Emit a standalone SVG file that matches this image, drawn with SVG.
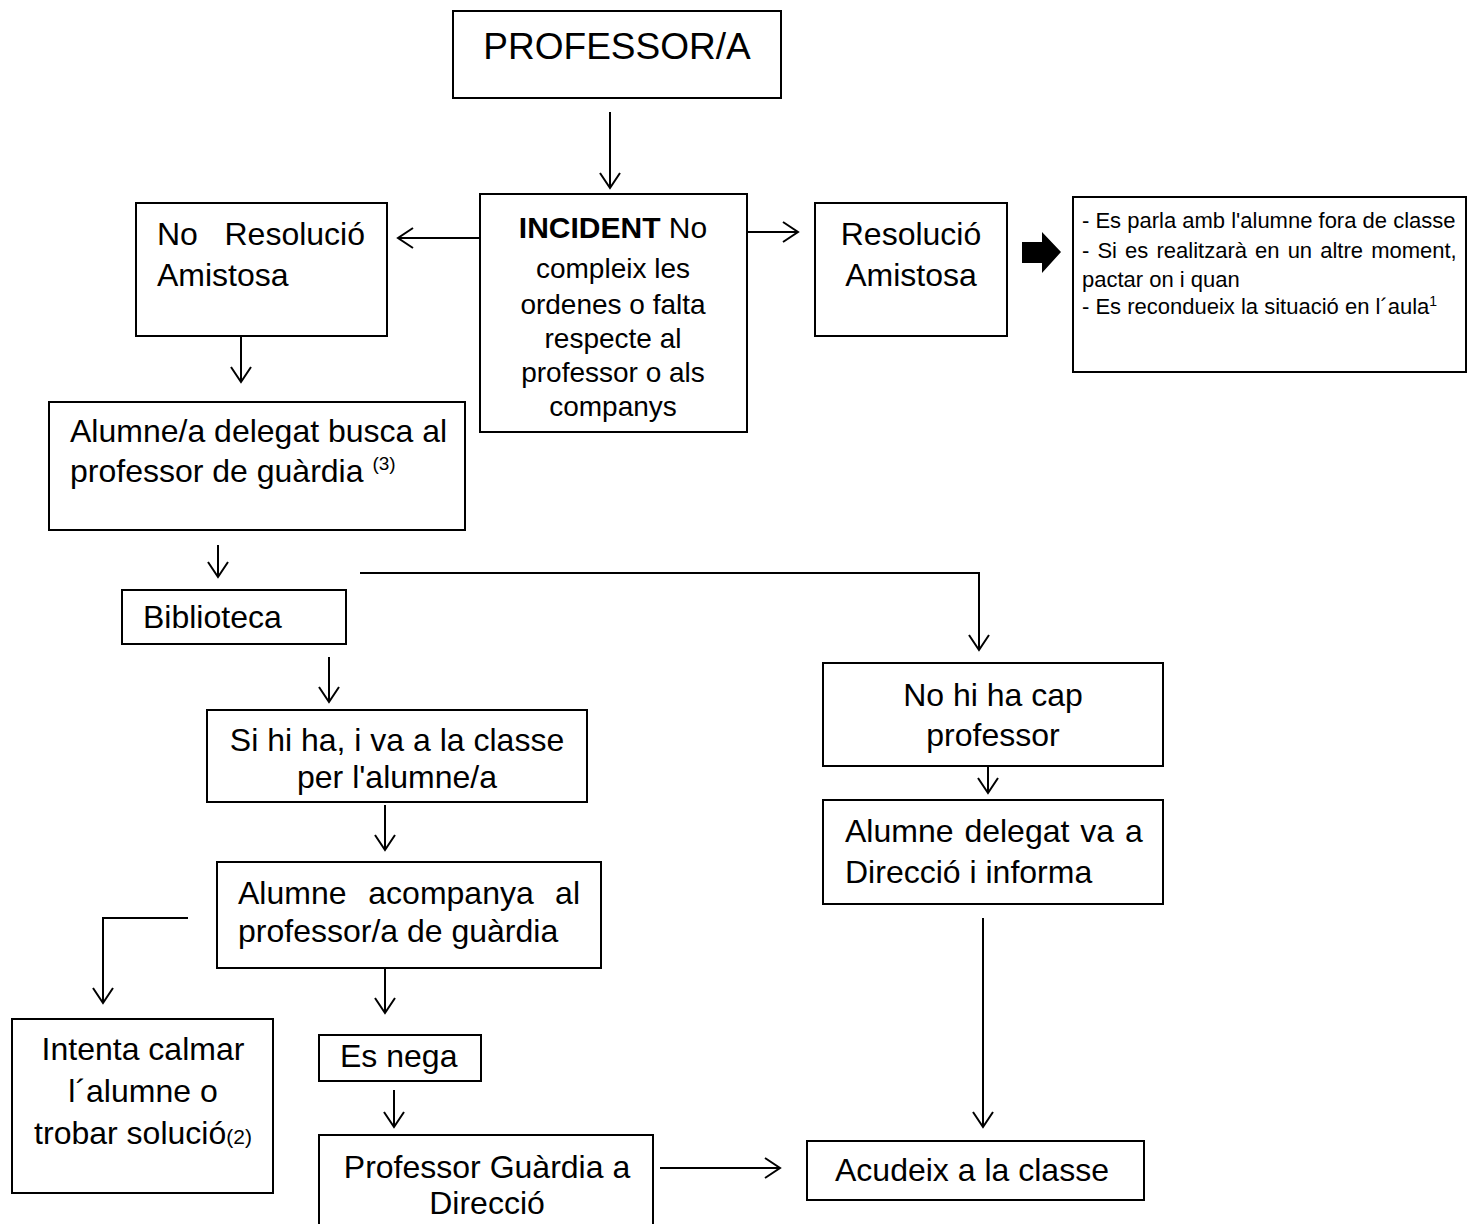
<svg xmlns="http://www.w3.org/2000/svg" width="1467" height="1224" viewBox="0 0 1467 1224">
<style>
.box{fill:#fff;stroke:#000;stroke-width:2}
.t{font-family:"Liberation Sans",Arial,sans-serif;font-size:32px;fill:#000}
.c{text-anchor:middle}
.e{text-anchor:end}
.s{font-family:"Liberation Sans",Arial,sans-serif;font-size:22px;fill:#000}
.conn{fill:none;stroke:#000;stroke-width:2}
</style>
<defs>
<marker id="ah" viewBox="-17 -12 19 24" refX="0" refY="0" markerWidth="19" markerHeight="24" markerUnits="userSpaceOnUse" orient="auto">
<path d="M-15,-10 L0,0 L-15,10" fill="none" stroke="#000" stroke-width="2"/>
</marker>
</defs>
<rect width="1467" height="1224" fill="#fff"/>
<g id="connectors">
<path class="conn" d="M610,112 V188" marker-end="url(#ah)"/>
<path class="conn" d="M480,238 H398" marker-end="url(#ah)"/>
<path class="conn" d="M747,232 H798" marker-end="url(#ah)"/>
<path class="conn" d="M241,337 V382" marker-end="url(#ah)"/>
<path class="conn" d="M218,545 V577" marker-end="url(#ah)"/>
<path class="conn" d="M360,573 H979 V650" marker-end="url(#ah)"/>
<path class="conn" d="M329,657 V702" marker-end="url(#ah)"/>
<path class="conn" d="M385,805 V850" marker-end="url(#ah)"/>
<path class="conn" d="M188,918 H103 V1003" marker-end="url(#ah)"/>
<path class="conn" d="M385,968 V1013" marker-end="url(#ah)"/>
<path class="conn" d="M988,756 V793" marker-end="url(#ah)"/>
<path class="conn" d="M983,918 V1127" marker-end="url(#ah)"/>
<path class="conn" d="M394,1090 V1127" marker-end="url(#ah)"/>
<path class="conn" d="M660,1168 H780" marker-end="url(#ah)"/>
<polygon points="1022,242 1042,242 1042,232 1061,252 1042,273 1042,263 1022,263" fill="#000"/>
</g>
<g id="professor">
<rect class="box" x="453" y="11" width="328" height="87"/>
<text class="t c" x="617" y="59" style="font-size:37px">PROFESSOR/A</text>
</g>
<g id="incident">
<rect class="box" x="480" y="194" width="267" height="238"/>
<text class="t c" x="613" y="238" style="font-size:30px"><tspan font-weight="bold">INCIDENT</tspan> No</text>
<text class="t c" x="613" y="278" style="font-size:28px">compleix les</text>
<text class="t c" x="613" y="314" style="font-size:28px">ordenes o falta</text>
<text class="t c" x="613" y="348" style="font-size:28px">respecte al</text>
<text class="t c" x="613" y="382" style="font-size:28px">professor o als</text>
<text class="t c" x="613" y="416" style="font-size:28px">companys</text>
</g>
<g id="no-resolucio">
<rect class="box" x="136" y="203" width="251" height="133"/>
<text class="t" x="157" y="245">No</text>
<text class="t e" x="365" y="245">Resolució</text>
<text class="t" x="157" y="286">Amistosa</text>
</g>
<g id="resolucio">
<rect class="box" x="815" y="203" width="192" height="133"/>
<text class="t c" x="911" y="245">Resolució</text>
<text class="t c" x="911" y="286">Amistosa</text>
</g>
<g id="nota-resolucio">
<rect class="box" x="1073" y="197" width="393" height="175"/>
<text class="s" x="1082" y="228">- Es parla amb l'alumne fora de classe</text>
<text class="s" x="1082" y="258" word-spacing="2">- Si es realitzarà en un altre moment,</text>
<text class="s" x="1082" y="287">pactar on i quan</text>
<text class="s" x="1082" y="314">- Es recondueix la situació en l´aula<tspan dy="-8" style="font-size:14px">1</tspan></text>
</g>
<g id="delegat-busca">
<rect class="box" x="49" y="402" width="416" height="128"/>
<text class="t" x="70" y="442">Alumne/a delegat busca al</text>
<text class="t" x="70" y="482">professor de guàrdia <tspan dy="-12" style="font-size:19px">(3)</tspan></text>
</g>
<g id="biblioteca">
<rect class="box" x="122" y="590" width="224" height="54"/>
<text class="t" x="143" y="628">Biblioteca</text>
</g>
<g id="si-hi-ha">
<rect class="box" x="207" y="710" width="380" height="92"/>
<text class="t c" x="397" y="751">Si hi ha, i va a la classe</text>
<text class="t c" x="397" y="788">per l'alumne/a</text>
</g>
<g id="no-hi-ha">
<rect class="box" x="823" y="663" width="340" height="103"/>
<text class="t c" x="993" y="706">No hi ha cap</text>
<text class="t c" x="993" y="746">professor</text>
</g>
<g id="delegat-direccio">
<rect class="box" x="823" y="800" width="340" height="104"/>
<text class="t" x="845" y="842" word-spacing="2">Alumne delegat va a</text>
<text class="t" x="845" y="883">Direcció i informa</text>
</g>
<g id="acompanya">
<rect class="box" x="217" y="862" width="384" height="106"/>
<text class="t" x="238" y="904">Alumne</text>
<text class="t c" x="451" y="904">acompanya</text>
<text class="t e" x="580" y="904">al</text>
<text class="t" x="238" y="942">professor/a de guàrdia</text>
</g>
<g id="intenta">
<rect class="box" x="12" y="1019" width="261" height="174"/>
<text class="t c" x="143" y="1060">Intenta calmar</text>
<text class="t c" x="143" y="1102">l´alumne o</text>
<text class="t c" x="143" y="1144">trobar solució<tspan style="font-size:21px">(2)</tspan></text>
</g>
<g id="es-nega">
<rect class="box" x="319" y="1035" width="162" height="46"/>
<text class="t" x="340" y="1067">Es nega</text>
</g>
<g id="guardia-direccio">
<rect class="box" x="319" y="1135" width="334" height="100"/>
<text class="t c" x="487" y="1178">Professor Guàrdia a</text>
<text class="t c" x="487" y="1214">Direcció</text>
</g>
<g id="acudeix">
<rect class="box" x="807" y="1141" width="337" height="59"/>
<text class="t" x="835" y="1181">Acudeix a la classe</text>
</g>
</svg>
